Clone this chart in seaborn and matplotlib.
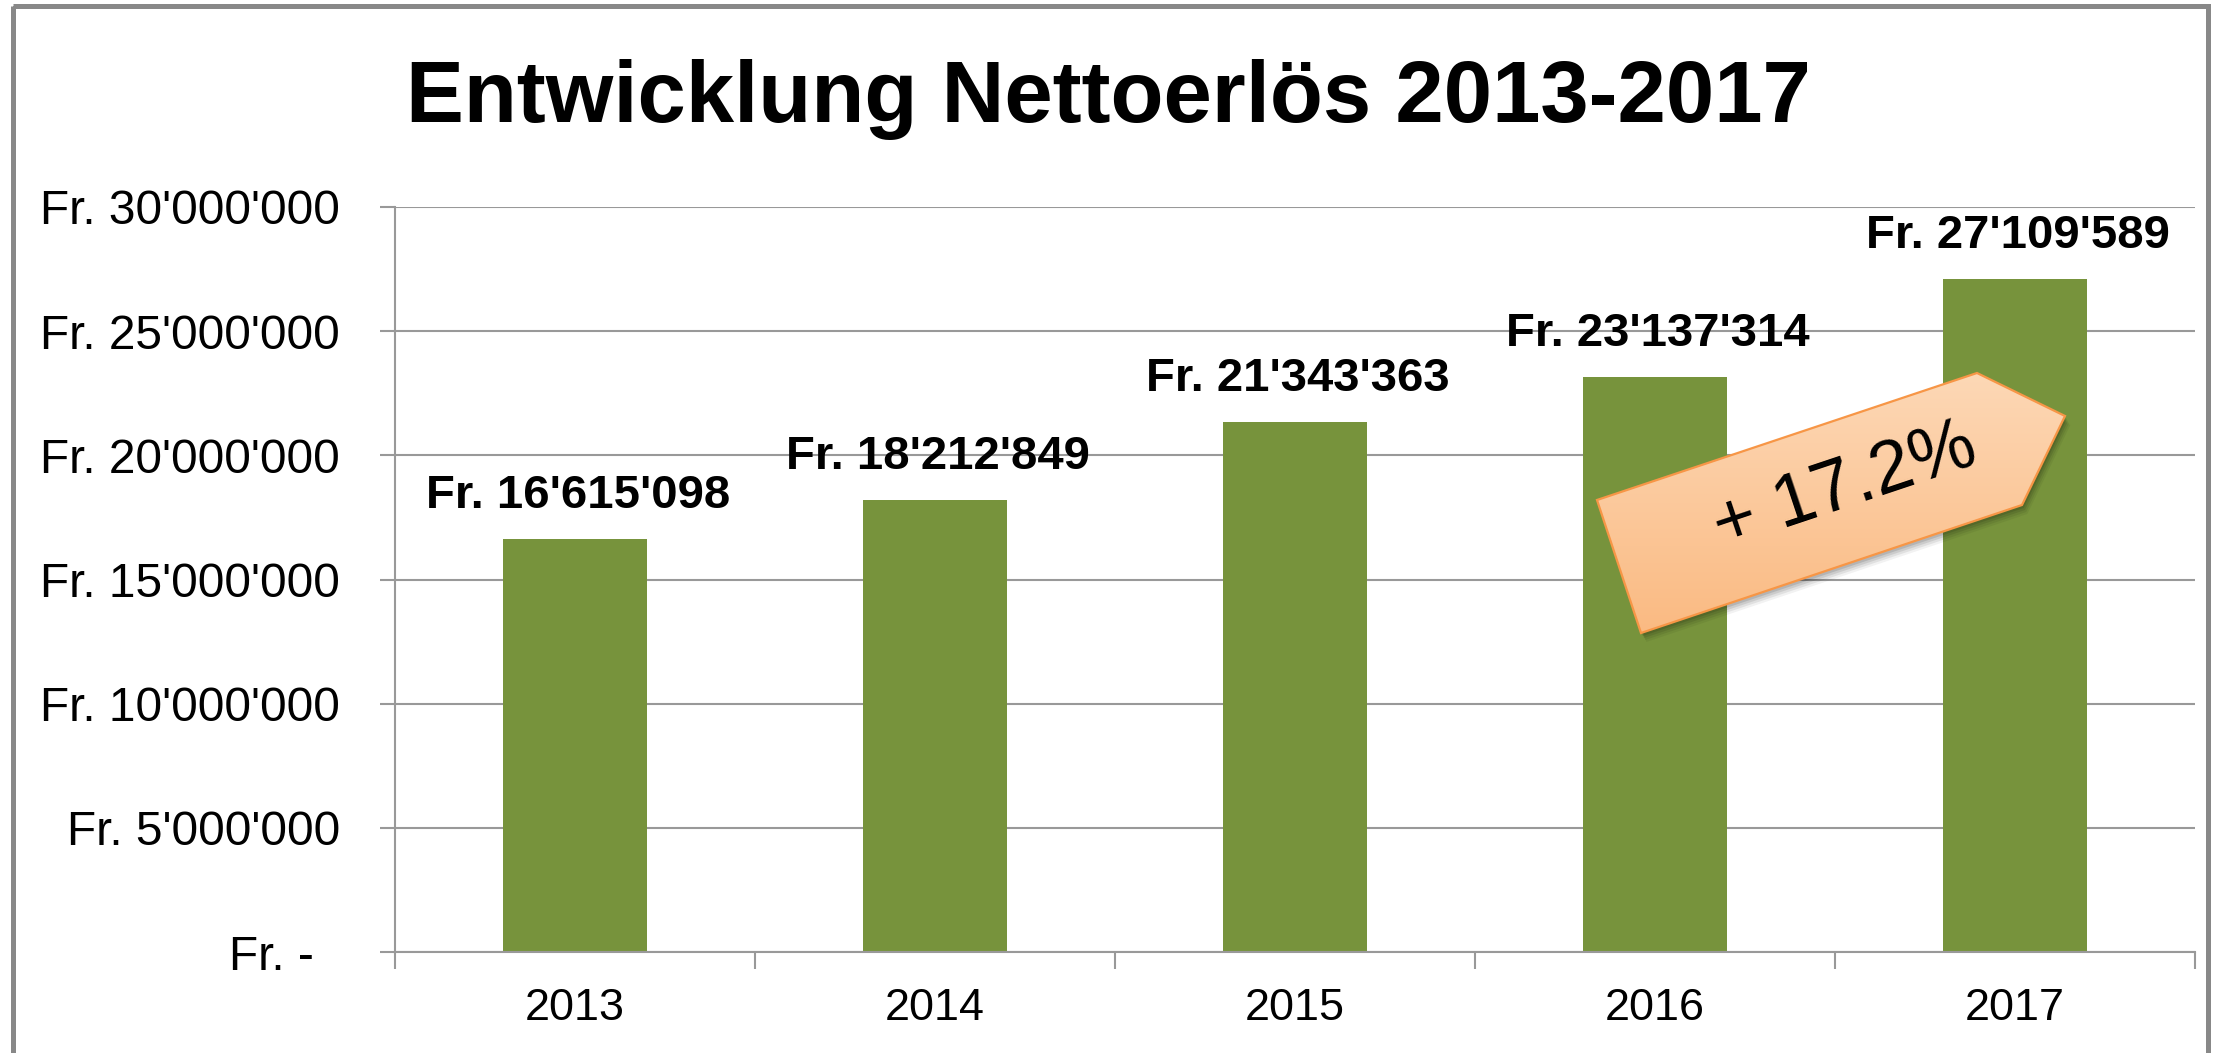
import numpy as np
import pandas as pd
import matplotlib
matplotlib.use("Agg")
import matplotlib.pyplot as plt
import seaborn as sns
from matplotlib.patches import Polygon, Rectangle
from matplotlib.ticker import FuncFormatter, FixedLocator

# ---- data ----
years = ["2013", "2014", "2015", "2016", "2017"]
revenue = [16615098, 18212849, 21343363, 23137314, 27109589]
y_ticks = [0, 5000000, 10000000, 15000000, 20000000, 25000000, 30000000]
title = "Entwicklung Nettoerlös 2013-2017"
growth_label = "+ 17.2%"

sns.set_style("white")
plt.rcParams["font.family"] = ["Liberation Sans", "DejaVu Sans"]

W, H = 2216, 1053
fig = plt.figure(figsize=(W / 100, H / 100), dpi=100)
fig.patch.set_facecolor("white")

# axes placement in pixels
ax_l, ax_r, ax_t, ax_b = 395, 2195, 207, 952
ax = fig.add_axes([ax_l / W, 1 - ax_b / H, (ax_r - ax_l) / W, (ax_b - ax_t) / H])

df = pd.DataFrame({"year": years, "revenue": revenue})
sns.barplot(data=df, x="year", y="revenue", color="#77933C", saturation=1,
            width=0.4, linewidth=0, ax=ax, zorder=3)

ax.set_xlim(-0.5, len(years) - 0.5)
ax.set_ylim(0, 30000000)
ax.set_xlabel("")
ax.set_ylabel("")

grid_c = "#999999"
ax.yaxis.set_major_locator(FixedLocator(y_ticks))
ax.grid(axis="y", color=grid_c, linewidth=1.5, zorder=0)
ax.grid(axis="x", visible=False)
ax.set_axisbelow(True)

def fmt(v, pos):
    if v == 0:
        return "Fr. -  "
    return "Fr. " + f"{v:,.0f}".replace(",", "'")

ax.yaxis.set_major_formatter(FuncFormatter(fmt))
ax.tick_params(axis="y", which="major", left=True, length=10.8, width=1.5,
               color=grid_c, pad=28.8, labelsize=34.5, labelcolor="black")
ax.tick_params(axis="x", which="major", bottom=False, length=0, pad=26,
               labelsize=32.4, labelcolor="black")
ax.xaxis.set_minor_locator(FixedLocator(np.arange(-0.5, len(years), 1.0)))
ax.tick_params(axis="x", which="minor", bottom=True, length=12.5, width=1.5,
               color=grid_c)

for s in ["top", "right"]:
    ax.spines[s].set_visible(False)
for s in ["left", "bottom"]:
    ax.spines[s].set_color(grid_c)
    ax.spines[s].set_linewidth(1.5)
    ax.spines[s].set_zorder(4)

# value labels above bars
for i, v in enumerate(revenue):
    ax.annotate("Fr. " + f"{v:,.0f}".replace(",", "'"), xy=(i, v),
                xytext=(2, 31 * 0.72), textcoords="offset points",
                ha="center", va="baseline", fontsize=34, fontweight="bold",
                color="black", zorder=5)

# title
fig.text(1108 / W, 1 - 122 / H, title, ha="center", va="baseline",
         fontsize=62.6, fontweight="bold", color="black")

# overlay axes in pixel coordinates for decorations
ov = fig.add_axes([0, 0, 1, 1], zorder=10)
ov.set_xlim(0, W)
ov.set_ylim(H, 0)
ov.axis("off")
ov.patch.set_alpha(0)

# outer frame
ov.add_patch(Rectangle((12.5, 6), 2207.5 - 12.5, 1080 - 6, fill=False,
                       edgecolor="#888888", linewidth=3.6))

# growth arrow (home-plate shape)
pts = np.array([[1597, 500], [1977, 373], [2065, 416], [2022, 505], [1641, 633]])
for k, a in zip([9, 7, 5, 3], [0.05, 0.07, 0.09, 0.11]):
    ov.add_patch(Polygon(pts + np.array([k * 0.6, k]), closed=True,
                         facecolor="black", edgecolor="none", alpha=a))
poly = Polygon(pts, closed=True, facecolor="none", edgecolor="#F79646",
               linewidth=1.6, zorder=3)
ov.add_patch(poly)
x0, y0 = pts.min(axis=0)
x1, y1 = pts.max(axis=0)
grad = np.linspace(0, 1, 256).reshape(-1, 1)
c_top = np.array([253, 216, 182]) / 255
c_bot = np.array([250, 186, 130]) / 255
img = c_top[None, None, :] * (1 - grad[:, :, None]) + c_bot[None, None, :] * grad[:, :, None]
im = ov.imshow(img, extent=(x0, x1, y1, y0), aspect="auto", zorder=2,
               interpolation="bilinear")
clip = Polygon(pts, closed=True, transform=ov.transData)
im.set_clip_path(clip)
ov.set_xlim(0, W)
ov.set_ylim(H, 0)

ov.text(1845, 487, growth_label, rotation=18.5, rotation_mode="anchor",
        ha="center", va="center", fontsize=53, color="black", zorder=4)

fig.savefig("out.png", dpi=100, facecolor="white")
